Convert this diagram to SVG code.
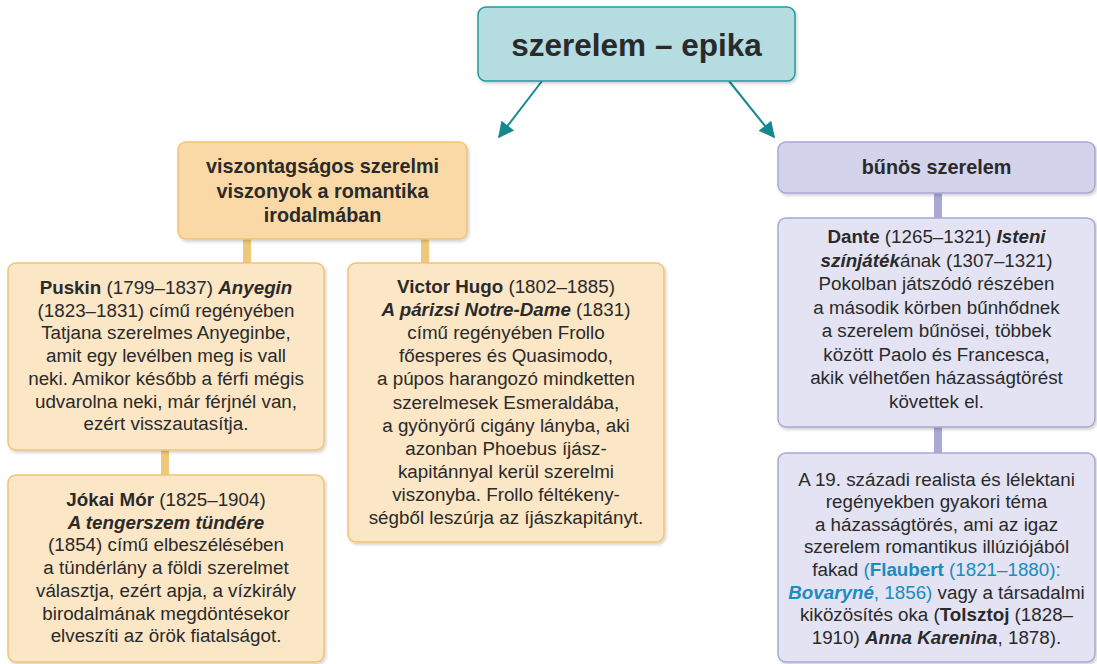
<svg xmlns="http://www.w3.org/2000/svg" width="1097" height="664" viewBox="0 0 1097 664">
<defs>
<filter id="sh" x="-5%" y="-5%" width="112%" height="115%">
<feDropShadow dx="1.5" dy="2" stdDeviation="1.5" flood-color="#000" flood-opacity="0.18"/>
</filter>
<marker id="ah2" viewBox="0 0 10 10" refX="9" refY="5" markerWidth="18" markerHeight="16" orient="auto" markerUnits="userSpaceOnUse">
<path d="M0,0 L10,5 L0,10 z" fill="#16888d"/>
</marker>
</defs>
<style>
text{font-family:"Liberation Sans",Arial,sans-serif;fill:#2a2a2a;text-anchor:middle}
.t{font-size:18.8px}
.h{font-size:19.8px;font-weight:bold}
.b{font-weight:bold}
.i{font-weight:bold;font-style:italic}
.bl{fill:#1a8cbf}
.org{fill:#fad9a6;stroke:#f0c478;stroke-width:1.5}
.org2{fill:#fbe6c6;stroke:#f0c478;stroke-width:1.5}
.pur{fill:#d3d3ec;stroke:#a9a9d2;stroke-width:1.5}
.pur2{fill:#e3e3f4;stroke:#a9a9d2;stroke-width:1.5}
.root{fill:#b4dce1;stroke:#1f9aa1;stroke-width:1.5}
.obar{stroke:#f0c878;stroke-width:8}
.pbar{stroke:#a9a9d2;stroke-width:8}
.arr{stroke:#16888d;stroke-width:2;fill:none}
</style>
<g id="connectors">
<line class="arr" x1="542" y1="81" x2="499" y2="137" marker-end="url(#ah2)"/>
<line class="arr" x1="729" y1="81" x2="774" y2="137" marker-end="url(#ah2)"/>
<line class="obar" x1="247" y1="239" x2="247" y2="264"/>
<line class="obar" x1="425" y1="239" x2="425" y2="264"/>
<line class="obar" x1="165" y1="450" x2="165" y2="476"/>
<line class="pbar" x1="938" y1="193" x2="938" y2="219"/>
<line class="pbar" x1="938" y1="427" x2="938" y2="454"/>
</g>
<g id="root">
<rect class="root" x="478" y="7" width="317" height="74" rx="8" filter="url(#sh)"/>
<text x="636.5" y="56" style="font-size:31.5px;font-weight:bold">szerelem – epika</text>
</g>
<g id="romantika">
<rect class="org" x="178" y="142" width="289" height="97" rx="8" filter="url(#sh)"/>
<text class="h" x="322.5" y="173">viszontagságos szerelmi</text>
<text class="h" x="322.5" y="197.5">viszonyok a romantika</text>
<text class="h" x="322.5" y="222">irodalmában</text>
</g>
<g id="puskin">
<rect class="org2" x="8" y="263" width="316" height="187" rx="8" filter="url(#sh)"/>
<text class="t" x="166" y="294"><tspan class="b">Puskin</tspan> (1799–1837) <tspan class="i">Anyegin</tspan></text>
<text class="t" x="166" y="316.7">(1823–1831) című regényében</text>
<text class="t" x="166" y="339.4">Tatjana szerelmes Anyeginbe,</text>
<text class="t" x="166" y="362.1">amit egy levélben meg is vall</text>
<text class="t" x="166" y="384.8">neki. Amikor később a férfi mégis</text>
<text class="t" x="166" y="407.5">udvarolna neki, már férjnél van,</text>
<text class="t" x="166" y="430.2">ezért visszautasítja.</text>
</g>
<g id="jokai">
<rect class="org2" x="8" y="475" width="316" height="187" rx="8" filter="url(#sh)"/>
<text class="t" x="166" y="506"><tspan class="b">Jókai Mór</tspan> (1825–1904)</text>
<text class="t" x="166" y="528.7"><tspan class="i">A tengerszem tündére</tspan></text>
<text class="t" x="166" y="551.4">(1854) című elbeszélésében</text>
<text class="t" x="166" y="574.1">a tündérlány a földi szerelmet</text>
<text class="t" x="166" y="596.8">választja, ezért apja, a vízkirály</text>
<text class="t" x="166" y="619.5">birodalmának megdöntésekor</text>
<text class="t" x="166" y="642.2">elveszíti az örök fiatalságot.</text>
</g>
<g id="hugo">
<rect class="org2" x="348" y="263" width="316" height="279" rx="8" filter="url(#sh)"/>
<text class="t" x="506" y="293"><tspan class="b">Victor Hugo</tspan> (1802–1885)</text>
<text class="t" x="506" y="316.1"><tspan class="i">A párizsi Notre-Dame</tspan> (1831)</text>
<text class="t" x="506" y="339.2">című regényében Frollo</text>
<text class="t" x="506" y="362.3">főesperes és Quasimodo,</text>
<text class="t" x="506" y="385.4">a púpos harangozó mindketten</text>
<text class="t" x="506" y="408.5">szerelmesek Esmeraldába,</text>
<text class="t" x="506" y="431.6">a gyönyörű cigány lányba, aki</text>
<text class="t" x="506" y="454.7">azonban Phoebus íjász-</text>
<text class="t" x="506" y="477.8">kapitánnyal kerül szerelmi</text>
<text class="t" x="506" y="500.9">viszonyba. Frollo féltékeny-</text>
<text class="t" x="506" y="524">ségből leszúrja az íjászkapitányt.</text>
</g>
<g id="bunos">
<rect class="pur" x="778" y="142" width="317" height="51" rx="8" filter="url(#sh)"/>
<text class="h" x="936.5" y="174">bűnös szerelem</text>
</g>
<g id="dante">
<rect class="pur2" x="778" y="218" width="317" height="209" rx="8" filter="url(#sh)"/>
<text class="t" x="936.5" y="243"><tspan class="b">Dante</tspan> (1265–1321) <tspan class="i">Isteni</tspan></text>
<text class="t" x="936.5" y="266.5"><tspan class="i">színjáték</tspan>ának (1307–1321)</text>
<text class="t" x="936.5" y="290">Pokolban játszódó részében</text>
<text class="t" x="936.5" y="313.5">a második körben bűnhődnek</text>
<text class="t" x="936.5" y="337">a szerelem bűnösei, többek</text>
<text class="t" x="936.5" y="360.5">között Paolo és Francesca,</text>
<text class="t" x="936.5" y="384">akik vélhetően házasságtörést</text>
<text class="t" x="936.5" y="407.5">követtek el.</text>
</g>
<g id="realista">
<rect class="pur2" x="778" y="453" width="317" height="209" rx="8" filter="url(#sh)"/>
<text class="t" x="936.5" y="485.5">A 19. századi realista és lélektani</text>
<text class="t" x="936.5" y="508.1">regényekben gyakori téma</text>
<text class="t" x="936.5" y="530.7">a házasságtörés, ami az igaz</text>
<text class="t" x="936.5" y="553.3">szerelem romantikus illúziójából</text>
<text class="t" x="936.5" y="575.9">fakad <tspan class="bl">(</tspan><tspan class="bl b">Flaubert</tspan><tspan class="bl"> (1821–1880):</tspan></text>
<text class="t" x="936.5" y="598.5"><tspan class="bl i">Bovaryné</tspan><tspan class="bl">, 1856)</tspan> vagy a társadalmi</text>
<text class="t" x="936.5" y="621.1">kiközösítés oka (<tspan class="b">Tolsztoj</tspan> (1828–</text>
<text class="t" x="936.5" y="643.7">1910) <tspan class="i">Anna Karenina</tspan>, 1878).</text>
</g>
</svg>
